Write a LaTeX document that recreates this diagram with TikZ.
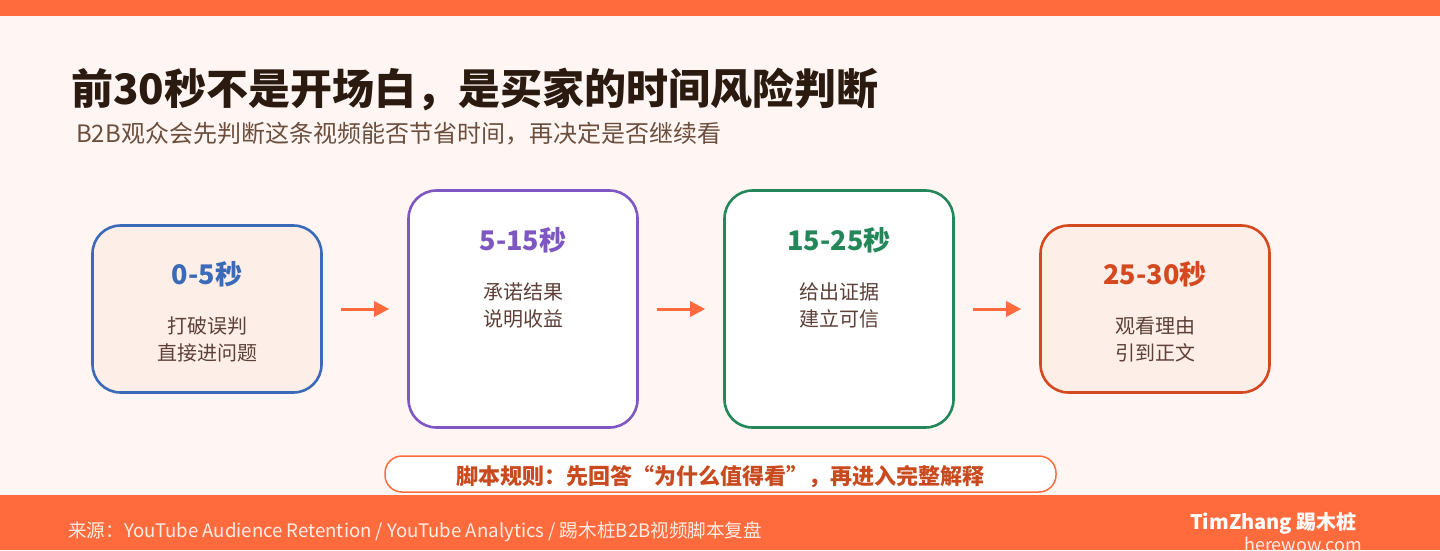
\documentclass[tikz,border=0pt]{standalone}
\usepackage{fontspec}
\setmainfont{Noto Sans CJK SC}
\usetikzlibrary{arrows.meta}
\definecolor{bgc}{HTML}{FFF6F3}
\definecolor{orangebar}{HTML}{FF6B3D}
\definecolor{titlec}{HTML}{2B1A10}
\definecolor{subc}{HTML}{6B4E3D}
\definecolor{bodyc}{HTML}{5D4037}
\definecolor{bluec}{HTML}{3A6AB8}
\definecolor{purplec}{HTML}{7E57C2}
\definecolor{greenc}{HTML}{23875A}
\definecolor{redc}{HTML}{D4491F}
\definecolor{peachc}{HTML}{FDEEE8}
\definecolor{rulec}{HTML}{C84A1E}
\definecolor{footc}{HTML}{FFEDE5}
\tikzset{
  stagebox/.style={rounded corners=28pt, line width=2.6pt, minimum width=229pt, inner sep=0pt},
  stagetitle/.style={font=\fontsize{27}{30}\selectfont\bfseries, inner sep=0pt, anchor=center},
  stagebody/.style={font=\fontsize{20}{27}\selectfont, text=bodyc, align=center, inner sep=0pt, anchor=center},
  flowarrow/.style={draw=orangebar, line width=3pt, -{Triangle[length=15pt,width=15pt]}, shorten <=18pt, shorten >=18pt}
}
\begin{document}
\begin{tikzpicture}[x=1pt,y=-1pt]
\useasboundingbox (0,0) rectangle (1440,550);
\fill[bgc] (0,0) rectangle (1440,550);
\fill[orangebar] (0,0) rectangle (1440,16);
\fill[orangebar] (0,495) rectangle (1440,550);

\node[anchor=base west, inner sep=0pt, text=titlec, font=\fontsize{42}{48}\selectfont\bfseries] (title) at (71,104) {前30秒不是开场白，是买家的时间风险判断};
\node[anchor=base west, inner sep=0pt, text=subc, font=\fontsize{24}{28}\selectfont] (sub) at (76,142) {B2B观众会先判断这条视频能否节省时间，再决定是否继续看};

\node[stagebox, draw=bluec, fill=peachc, minimum height=167pt] (b1) at (207,309) {};
\node[stagebox, draw=purplec, fill=white, minimum height=237pt] (b2) at (523,309) {};
\node[stagebox, draw=greenc, fill=white, minimum height=237pt] (b3) at (839,309) {};
\node[stagebox, draw=redc, fill=peachc, minimum height=167pt] (b4) at (1155,309) {};

\node[stagetitle, text=bluec] (t1) at (207,274) {0-5秒};
\node[stagebody] (d1) at (207,339) {打破误判\\直接进问题};
\node[stagetitle, text=purplec] (t2) at (523,240) {5-15秒};
\node[stagebody] (d2) at (523,305) {承诺结果\\说明收益};
\node[stagetitle, text=greenc] (t3) at (839,240) {15-25秒};
\node[stagebody] (d3) at (839,305) {给出证据\\建立可信};
\node[stagetitle, text=redc] (t4) at (1155,274) {25-30秒};
\node[stagebody] (d4) at (1155,339) {观看理由\\引到正文};

\draw[flowarrow] (b1.east) -- (b2.west);
\draw[flowarrow] (b2.east) -- (b3.west);
\draw[flowarrow] (b3.east) -- (b4.west);

\node[draw=orangebar, fill=white, line width=1.5pt, rounded corners=17pt, minimum width=671pt, minimum height=36pt, inner sep=0pt] (rule) at (720.5,474) {};
\node[inner sep=0pt, text=rulec, font=\fontsize{22}{26}\selectfont\bfseries] (ruletext) at (720,477) {脚本规则：先回答“为什么值得看”，再进入完整解释};

\node[anchor=base west, inner sep=0pt, text=footc, font=\fontsize{18.6}{21}\selectfont] (src) at (68,537) {来源：YouTube Audience Retention / YouTube Analytics / 踢木桩B2B视频脚本复盘};
\node[anchor=base east, inner sep=0pt, text=white, font=\fontsize{20}{23}\selectfont\bfseries] (brand) at (1357,529) {TimZhang 踢木桩};
\node[anchor=base east, inner sep=0pt, text=footc, font=\fontsize{18}{22}\selectfont] (site) at (1362,551) {herewow.com};
\end{tikzpicture}
\end{document}
